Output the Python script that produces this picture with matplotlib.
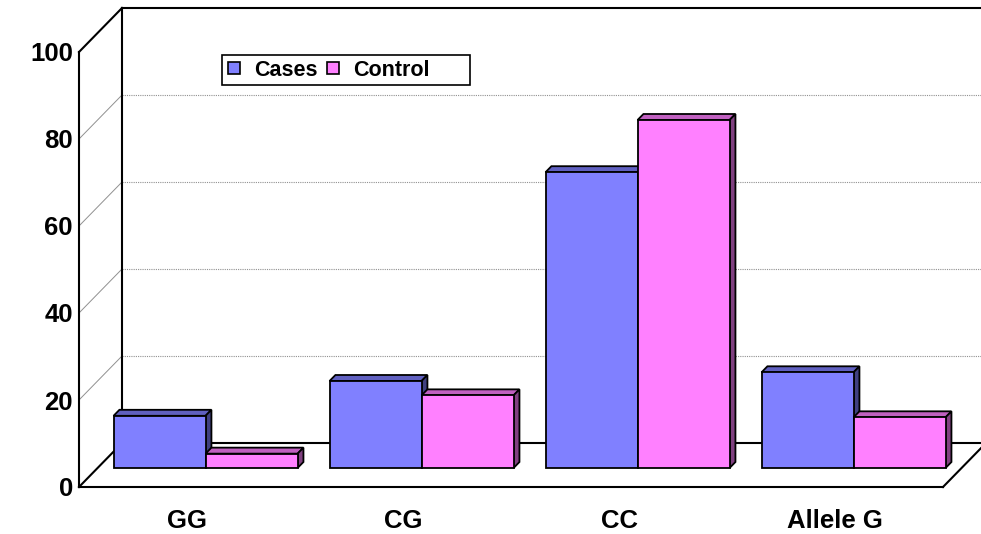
import matplotlib.pyplot as plt
import numpy as np
from matplotlib.patches import Polygon, Patch, Rectangle

categories = ["GG", "CG", "CC", "Allele G"]
cases = [12, 20, 68, 22]
control = [3.3, 16.7, 80, 11.65]
yticks = [0, 20, 40, 60, 80, 100]

plt.rcParams['font.family'] = ['Liberation Sans', 'DejaVu Sans']
plt.rcParams['font.weight'] = 'bold'

W, H = 981, 534
fig = plt.figure(figsize=(W / 100, H / 100), dpi=100)
# front plane of the box, in pixels: x 79..943, y 52..487
ax = fig.add_axes([79 / W, (H - 487) / H, 864 / W, 435 / H])
ax.set_xlim(0, 4)
ax.set_ylim(0, 100)
for s in ax.spines.values():
    s.set_visible(False)
ax.set_facecolor('none')

# oblique depth vector in data units (43 px right, 44 px up)
DX = 43 / 216
DY = 44 / 4.35

def line(xs, ys, **kw):
    ax.plot(xs, ys, clip_on=False, solid_capstyle='projecting', **kw)

# back wall and left wall gridlines
for v in yticks[1:-1]:
    line([DX, 4 + DX], [v + DY, v + DY], color='#909090', lw=0.8, ls=(0, (1, 1)), zorder=1)
    line([0, DX], [v, v + DY], color='#909090', lw=0.7, zorder=1)

k = dict(color='black', lw=1.5, zorder=2)
line([0, 0], [0, 100], **k)
line([0, DX], [100, 100 + DY], **k)
line([DX, DX], [DY, 100 + DY], **k)
line([DX, 4 + DX], [100 + DY, 100 + DY], **k)
line([DX, 4 + DX], [DY, DY], **k)
line([0, 4], [0, 0], **k)
line([0, DX], [0, DY], **k)
line([4, 4 + DX], [0, DY], **k)

# bars sit in the middle of the floor depth
f0, f1 = 19 / 44, 25 / 44
gap = 0.074
bw = (1 - 2 * gap) / 2
styles = [
    (cases, '#8080FF', '#6060C0', '#404080'),
    (control, '#FF80FF', '#C060C0', '#804080'),
]

def box(x0, x1, h, front, top, side, z):
    ox0, oy0 = f0 * DX, f0 * DY
    ox1, oy1 = f1 * DX, f1 * DY
    faces = [
        ([(x0 + ox0, h + oy0), (x1 + ox0, h + oy0), (x1 + ox1, h + oy1), (x0 + ox1, h + oy1)], top),
        ([(x1 + ox0, oy0), (x1 + ox1, oy1), (x1 + ox1, h + oy1), (x1 + ox0, h + oy0)], side),
        ([(x0 + ox0, oy0), (x1 + ox0, oy0), (x1 + ox0, h + oy0), (x0 + ox0, h + oy0)], front),
    ]
    for pts, c in faces:
        ax.add_patch(Polygon(pts, closed=True, facecolor=c, edgecolor='black',
                             lw=1.3, joinstyle='miter', clip_on=False, zorder=z))

z = 3
for i in range(len(categories)):
    for j, (vals, front, top, side) in enumerate(styles):
        x0 = i + gap + j * bw
        box(x0, x0 + bw, vals[i], front, top, side, z)
        z += 1

ax.set_yticks(yticks)
ax.set_yticklabels([str(v) for v in yticks], fontsize=18.5, fontweight='bold')
ax.set_xticks(np.arange(len(categories)) + 0.5)
ax.set_xticklabels(categories, fontsize=18.5, fontweight='bold')
ax.tick_params(axis='y', length=0, pad=4.5)
ax.tick_params(axis='x', length=0, pad=16)

# legend: frame drawn separately so it can keep the wide right margin
fig.patches.append(Rectangle((222 / W, 1 - 85 / H), 248 / W, 30 / H,
                             transform=fig.transFigure, facecolor='white',
                             edgecolor='black', lw=1.2, zorder=5))
handles = [Patch(facecolor='#8080FF', edgecolor='black', lw=1.2, label='Cases'),
           Patch(facecolor='#FF80FF', edgecolor='black', lw=1.2, label='Control')]
leg = fig.legend(handles=handles, loc='center left', bbox_to_anchor=(228 / W, 1 - 70 / H),
                 ncol=2, frameon=False, borderaxespad=0, borderpad=0,
                 prop={'size': 15.5, 'weight': 'bold'}, handlelength=0.56, handleheight=0.47,
                 columnspacing=0.45, handletextpad=0.65)
leg.set_zorder(6)

fig.savefig('out.png', dpi=100, facecolor='white')
